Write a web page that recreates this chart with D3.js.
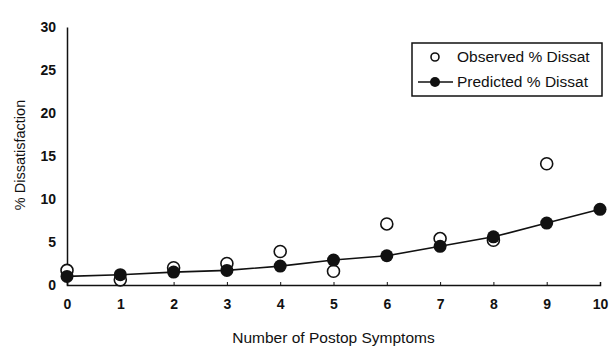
<!DOCTYPE html>
<html>
<head>
<meta charset="utf-8">
<script src="https://cdn.jsdelivr.net/npm/d3@7"></script>
<style>
  body { margin: 0; background: #fff; }
  text { font-family: "Liberation Sans", Arial, sans-serif; fill: #111; }
</style>
</head>
<body>
<div id="chart"></div>
<script>
var w = 609, h = 347;

// Data
var symptoms = [0, 1, 2, 3, 4, 5, 6, 7, 8, 9, 10];
var observed = [1.7, 0.6, 2.0, 2.5, 3.9, 1.6, 7.1, 5.4, 5.2, 14.1, null];
var predicted = [1.0, 1.2, 1.5, 1.7, 2.2, 2.9, 3.4, 4.5, 5.6, 7.2, 8.8];
var yTicks = [0, 5, 10, 15, 20, 25, 30];

var margin = { left: 67, right: 9, top: 27, bottom: 62 };

var x = d3.scaleLinear()
  .domain([0, 10])
  .range([margin.left, w - margin.right]);

var y = d3.scaleLinear()
  .domain([0, 30])
  .range([h - margin.bottom, margin.top]);

var svg = d3.select("#chart")
  .append("svg")
  .attr("width", w)
  .attr("height", h);

// Y axis
var yAxis = svg.append("g")
  .attr("transform", "translate(" + margin.left + ",0)")
  .call(d3.axisLeft(y).tickValues(yTicks).tickSize(0).tickPadding(11));
yAxis.select(".domain").attr("stroke", "#111").attr("stroke-width", 1.5);
yAxis.selectAll("text").style("font-size", "14px").style("font-weight", "bold").attr("dy", "0.35em");

// X axis
var xAxis = svg.append("g")
  .attr("transform", "translate(0," + y(0) + ")")
  .call(d3.axisBottom(x).tickValues(symptoms).tickSize(-3).tickPadding(14).tickFormat(d3.format("d")));
xAxis.select(".domain").attr("stroke", "#111").attr("stroke-width", 1.5);
xAxis.selectAll(".tick line").attr("stroke", "#111");
xAxis.selectAll("text").style("font-size", "14px").style("font-weight", "bold");

// Axis titles
svg.append("text")
  .attr("x", (x(0) + x(10)) / 2)
  .attr("y", 343)
  .attr("text-anchor", "middle")
  .style("font-size", "15.5px")
  .text("Number of Postop Symptoms");

svg.append("text")
  .attr("transform", "translate(25,155) rotate(-90)")
  .attr("text-anchor", "middle")
  .style("font-size", "14.5px")
  .text("% Dissatisfaction");

// Observed points (open circles)
var obs = symptoms.map(function(d, i) { return { x: d, v: observed[i] }; })
  .filter(function(d) { return d.v != null; });

svg.selectAll(".obs")
  .data(obs)
  .enter()
  .append("circle")
  .attr("class", "obs")
  .attr("cx", function(d) { return x(d.x); })
  .attr("cy", function(d) { return y(d.v); })
  .attr("r", 6)
  .attr("fill", "#fff")
  .attr("stroke", "#111")
  .attr("stroke-width", 1.6);

// Predicted line + points
var pred = symptoms.map(function(d, i) { return { x: d, v: predicted[i] }; });

var line = d3.line()
  .x(function(d) { return x(d.x); })
  .y(function(d) { return y(d.v); });

svg.append("path")
  .datum(pred)
  .attr("d", line)
  .attr("fill", "none")
  .attr("stroke", "#111")
  .attr("stroke-width", 1.6);

svg.selectAll(".pred")
  .data(pred)
  .enter()
  .append("circle")
  .attr("class", "pred")
  .attr("cx", function(d) { return x(d.x); })
  .attr("cy", function(d) { return y(d.v); })
  .attr("r", 6.5)
  .attr("fill", "#111");

// Legend
var legend = svg.append("g");
legend.append("rect")
  .attr("x", 412).attr("y", 43)
  .attr("width", 190).attr("height", 53)
  .attr("fill", "#fff")
  .attr("stroke", "#111")
  .attr("stroke-width", 1.5);

legend.append("circle")
  .attr("cx", 435).attr("cy", 57).attr("r", 4)
  .attr("fill", "#fff").attr("stroke", "#111").attr("stroke-width", 1.6);
legend.append("text")
  .attr("x", 457).attr("y", 57).attr("dy", "0.35em")
  .style("font-size", "15.5px")
  .text("Observed % Dissat");

legend.append("line")
  .attr("x1", 418).attr("x2", 453).attr("y1", 82).attr("y2", 82)
  .attr("stroke", "#111").attr("stroke-width", 1.5);
legend.append("circle")
  .attr("cx", 435).attr("cy", 82).attr("r", 5)
  .attr("fill", "#111");
legend.append("text")
  .attr("x", 457).attr("y", 82).attr("dy", "0.35em")
  .style("font-size", "15.5px")
  .text("Predicted % Dissat");
</script>
</body>
</html>
